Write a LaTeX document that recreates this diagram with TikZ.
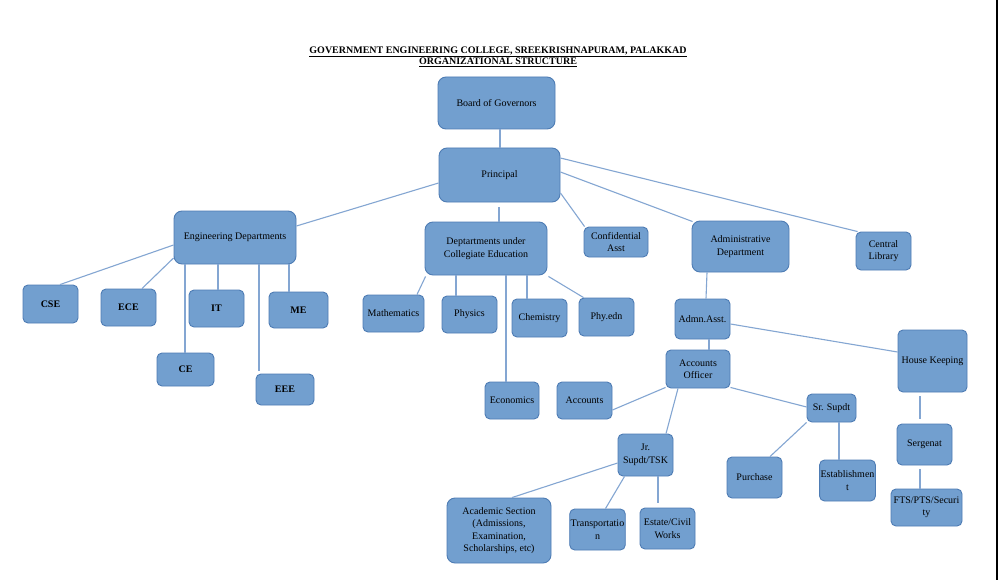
\documentclass[tikz,border=0pt]{standalone}
\usepackage{fontspec}
\setmainfont{Liberation Serif}
\definecolor{boxfill}{RGB}{114,159,207}
\definecolor{boxline}{RGB}{78,124,180}
\definecolor{linkcol}{RGB}{132,166,210}
\begin{document}
\begin{tikzpicture}[x=1pt,y=-1pt,
  box/.style={draw=boxline, fill=boxfill, rounded corners=5pt, line width=0.9pt,
    align=center, inner sep=1pt, text=black, font=\fontsize{10}{12.5}\selectfont},
  bigbox/.style={box, rounded corners=8pt},
  link/.style={draw=linkcol, line width=1.1pt},
  ttl/.style={anchor=base, inner sep=0pt, font=\fontsize{10}{12}\selectfont\bfseries}]
\useasboundingbox (0,0) rectangle (1000,580);
\fill[white] (0,0) rectangle (1000,580);
\fill[black] (996,0) rectangle (998,580);

% title
\node[ttl] (t1) at (498,53.5) {\underline{GOVERNMENT ENGINEERING COLLEGE, SREEKRISHNAPURAM, PALAKKAD}};
\node[ttl] (t2) at (498,64.5) {\underline{ORGANIZATIONAL STRUCTURE}};

% nodes
\node[bigbox, minimum width=117, minimum height=52] (gov) at (496.5,103) {Board of Governors};
\node[bigbox, minimum width=121, minimum height=54] (prin) at (499.5,175) {Principal};
\node[bigbox, minimum width=122, minimum height=53] (eng) at (235,237.5) {Engineering Departments};
\node[bigbox, minimum width=122, minimum height=53] (col) at (486,248.5) {Deptartments under\\Collegiate Education};
\node[box, minimum width=64, minimum height=30] (conf) at (616,242) {Confidential\\Asst};
\node[bigbox, minimum width=97, minimum height=51] (adm) at (740.5,246.5) {Administrative\\Department};
\node[box, minimum width=55, minimum height=38] (lib) at (883.5,251) {Central\\Library};

\node[box, minimum width=55, minimum height=38] (cse) at (50.5,304) {\bfseries CSE};
\node[box, minimum width=55, minimum height=37] (ece) at (128.5,307.5) {\bfseries ECE};
\node[box, minimum width=55, minimum height=37] (it) at (216.5,308.5) {\bfseries IT};
\node[box, minimum width=59, minimum height=36] (me) at (298.5,310) {\bfseries ME};
\node[box, minimum width=57, minimum height=33] (ce) at (185.5,369.5) {\bfseries CE};
\node[box, minimum width=58, minimum height=31] (eee) at (285,389.5) {\bfseries EEE};

\node[box, minimum width=61, minimum height=37] (math) at (393.5,313.5) {Mathematics};
\node[box, minimum width=55, minimum height=37] (phy) at (469.5,314.5) {Physics};
\node[box, minimum width=55, minimum height=38] (chem) at (539.5,318) {Chemistry};
\node[box, minimum width=55, minimum height=38] (pe) at (606.5,317) {Phy.edn};
\node[box, minimum width=54, minimum height=37] (eco) at (512,400.5) {Economics};
\node[box, minimum width=55, minimum height=37] (acc) at (584.5,400.5) {Accounts};

\node[box, minimum width=55, minimum height=40] (aa) at (702.5,319) {Admn.Asst.};
\node[box, minimum width=64, minimum height=38] (ao) at (698,369) {Accounts\\Officer};
\node[box, minimum width=69, minimum height=62] (hk) at (932.5,361) {House Keeping};
\node[box, minimum width=49, minimum height=28] (sr) at (831.5,408) {Sr. Supdt};
\node[box, minimum width=55, minimum height=42] (jr) at (645.5,455) {Jr.\\Supdt/TSK};
\node[box, minimum width=55, minimum height=41] (pur) at (754.5,477.5) {Purchase};
\node[box, minimum width=55, minimum height=41] (est) at (847.5,480.5) {Establishmen\\t};
\node[box, minimum width=55, minimum height=41] (ser) at (924.5,444.5) {Sergenat};
\node[box, minimum width=71, minimum height=37] (fts) at (926.5,507.5) {FTS/PTS/Securi\\ty};
\node[bigbox, minimum width=104, minimum height=65] (acad) at (499,530.5) {Academic Section\\(Admissions,\\Examination,\\Scholarships, etc)};
\node[box, minimum width=55, minimum height=41] (trn) at (597.5,529.5) {Transportatio\\n};
\node[box, minimum width=55, minimum height=41] (estate) at (667.5,528.5) {Estate/Civil\\Works};

% connectors
\draw[link] ([xshift=3.5]gov.south) -- ([xshift=0.5]prin.north);
\draw[link] ([yshift=-8]prin.west) -- ([yshift=11.5]eng.east);
\draw[link] ([xshift=-0.5,yshift=-5]prin.south) -- ([xshift=13]col.north);
\draw[link] ([yshift=-18]prin.east) -- ([xshift=1]conf.north west);
\draw[link] ([yshift=3]prin.east) -- ([xshift=1,yshift=-1]adm.north west);
\draw[link] ([yshift=17]prin.east) -- ([xshift=2]lib.north west);

\draw[link] ([yshift=-7.5]eng.west) -- ([xshift=9.5]cse.north);
\draw[link] ([yshift=-20.5]eng.west) -- ([xshift=13.5]ece.north);
\draw[link] ([xshift=-50]eng.south) -- ([xshift=-0.5]ce.north);
\draw[link] ([xshift=-17]eng.south) -- ([xshift=1.5]it.north);
\draw[link] ([xshift=24]eng.south) -- ([xshift=-26,yshift=3]eee.north);
\draw[link] ([xshift=54]eng.south) -- ([xshift=-9.5]me.north);

\draw[link] ([xshift=1,yshift=-1]col.south west) -- ([xshift=23.5]math.north);
\draw[link] ([xshift=-30]col.south) -- ([xshift=-13.5]phy.north);
\draw[link] ([xshift=20]col.south) -- ([xshift=-6]eco.north);
\draw[link] ([xshift=41]col.south) -- ([xshift=-12.5]chem.north);
\draw[link] ([xshift=1,yshift=-1]col.south east) -- ([xshift=5]pe.north west);

\draw[link] ([xshift=-33.5]adm.south) -- ([xshift=3.5]aa.north);
\draw[link] ([yshift=-5]aa.east) -- ([yshift=9]hk.west);
\draw[link] ([xshift=6.5]aa.south) -- ([xshift=11]ao.north);
\draw[link] ([yshift=1]ao.south west) -- ([yshift=-9.5]acc.east);
\draw[link] ([xshift=-20]ao.south) -- ([xshift=20.5]jr.north);
\draw[link] ([yshift=1]ao.south east) -- ([yshift=1]sr.west);
\draw[link] (sr.south west) -- ([xshift=15.5]pur.north);
\draw[link] ([xshift=7.5]sr.south) -- ([xshift=-8.5]est.north);
\draw[link, shorten <=4pt, shorten >=5pt] ([xshift=-12.5]hk.south) -- ([xshift=-4.5]ser.north);
\draw[link, shorten <=4pt] ([xshift=-4.5]ser.south) -- ([xshift=-6.5]fts.north);
\draw[link] ([yshift=-8]jr.west) -- ([xshift=13]acad.north);
\draw[link] ([xshift=-21]jr.south) -- ([xshift=8]trn.north);
\draw[link, shorten >=4.5pt] ([xshift=12.5]jr.south) -- ([xshift=-9.5]estate.north);
\end{tikzpicture}
\end{document}
